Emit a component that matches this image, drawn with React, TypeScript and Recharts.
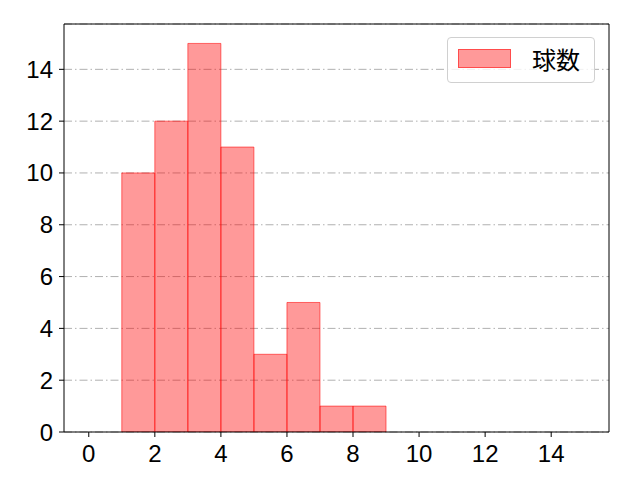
import React from 'react';
import { BarChart, Bar, XAxis, YAxis, CartesianGrid, Legend, ReferenceLine } from 'recharts';

const binCenters = [1.5, 2.5, 3.5, 4.5, 5.5, 6.5, 7.5, 8.5];
const counts = [10, 12, 15, 11, 3, 5, 1, 1];
const xTicks = [0, 2, 4, 6, 8, 10, 12, 14];
const yTicks = [0, 2, 4, 6, 8, 10, 12, 14];
const xDomain = [-0.75, 15.75];
const yDomain = [0, 15.75];
const seriesName = '球数';

const data = binCenters.map((x, i) => ({ x, count: counts[i] }));

const FONT = '"Noto Sans CJK JP", "Noto Sans", sans-serif';
const TICK_FONT = '"Liberation Sans", Arial, sans-serif';

const LegendBox = () => (
  <div
    style={{
      boxSizing: 'border-box',
      width: 148,
      height: 46,
      border: '1px solid #d0d0d0',
      borderRadius: 4,
      background: 'rgba(255,255,255,0.8)',
      position: 'relative',
      fontFamily: FONT,
    }}
  >
    <div
      style={{
        position: 'absolute',
        left: 10,
        top: 11,
        width: 53,
        height: 19,
        boxSizing: 'border-box',
        background: 'rgba(255,0,0,0.4)',
        border: '1px solid rgba(255,0,0,0.5)',
      }}
    />
    <span
      style={{
        position: 'absolute',
        left: 84,
        top: 5,
        fontSize: 24,
        lineHeight: '32px',
        color: '#000',
        whiteSpace: 'nowrap',
      }}
    >
      {seriesName}
    </span>
  </div>
);

export default function App() {
  return (
    <div style={{ position: 'absolute', left: 0, top: 0, width: 640, height: 480, background: '#fff' }}>
      <BarChart
        width={640}
        height={480}
        data={data}
        margin={{ top: 24, right: 31, left: 0, bottom: 0 }}
        barCategoryGap={0}
        barGap={0}
      >
        <CartesianGrid
          vertical={false}
          stroke="#b0b0b0"
          strokeWidth={1}
          strokeDasharray="8 3 1.5 3"
        />
        <XAxis
          dataKey="x"
          type="number"
          domain={xDomain}
          ticks={xTicks}
          allowDataOverflow
          height={48}
          tickSize={5}
          tickMargin={8}
          axisLine={{ stroke: '#000', strokeWidth: 1 }}
          tickLine={{ stroke: '#000', strokeWidth: 1 }}
          tick={{ fill: '#000', fontSize: 24, fontFamily: TICK_FONT }}
          interval={0}
        />
        <YAxis
          type="number"
          domain={yDomain}
          ticks={yTicks}
          allowDataOverflow
          width={64}
          tickSize={5}
          tickMargin={6}
          axisLine={{ stroke: '#000', strokeWidth: 1 }}
          tickLine={{ stroke: '#000', strokeWidth: 1 }}
          tick={{ fill: '#000', fontSize: 24, fontFamily: TICK_FONT }}
          interval={0}
        />
        <Legend
          layout="horizontal"
          verticalAlign="middle"
          align="center"
          wrapperStyle={{ left: 447, top: 37, width: 148, height: 46 }}
          content={() => <LegendBox />}
        />
        <Bar
          dataKey="count"
          name={seriesName}
          fill="red"
          fillOpacity={0.4}
          stroke="red"
          strokeOpacity={0.55}
          strokeWidth={1}
          isAnimationActive={false}
        />
        <ReferenceLine y={yDomain[1]} stroke="#000" strokeWidth={1} />
        <ReferenceLine x={xDomain[1]} stroke="#000" strokeWidth={1} />
      </BarChart>
    </div>
  );
}
